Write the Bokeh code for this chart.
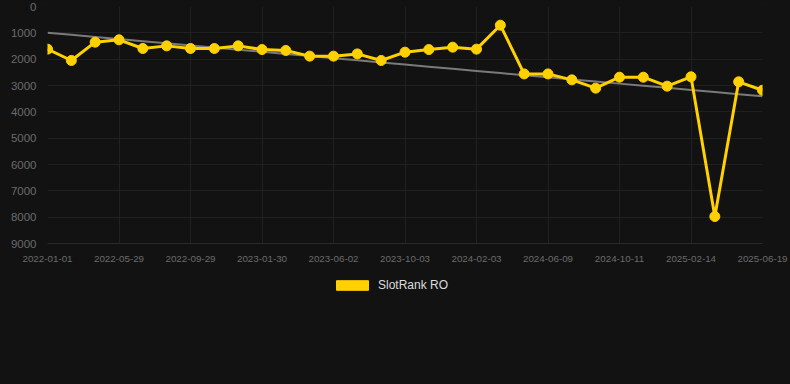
import numpy as np
from bokeh.plotting import figure
from bokeh.layouts import column
from bokeh.models import (Range1d, FixedTicker, Legend, LegendItem)
from bokeh.embed import file_html
from bokeh.resources import INLINE

# ---- data ----
tick_labels = ["2022-01-01", "2022-05-29", "2022-09-29", "2023-01-30", "2023-06-02",
               "2023-10-03", "2024-02-03", "2024-06-09", "2024-10-11", "2025-02-14",
               "2025-06-19"]
ranks = [1620, 2050, 1355, 1265, 1595, 1495, 1595, 1595, 1495, 1635,
         1670, 1885, 1885, 1800, 2050, 1735, 1635, 1545, 1620, 710,
         2560, 2560, 2785, 3100, 2685, 2685, 3025, 2670, 7975, 2860, 3180]
series_name = "SlotRank RO"
label_step = 3

idx = list(range(len(ranks)))
coef = np.polyfit(idx, ranks, 1)
trend = list(np.polyval(coef, idx))

BG = "#121212"
YELLOW = "#FFD100"
GRID = "#202020"
TXT = "#6b6b6b"

p = figure(frame_width=715, frame_height=237, output_backend="svg", toolbar_location=None,
           x_range=Range1d(0, len(ranks) - 1), y_range=Range1d(9000, 0),
           min_border_left=47, min_border_right=28, min_border_top=6,
           min_border_bottom=30)
p.background_fill_color = BG
p.border_fill_color = BG
p.outline_line_color = None

p.line(idx, trend, line_color="#7a7a7a", line_width=2)
p.line(idx, ranks, line_color=YELLOW, line_width=3)
p.scatter(idx, ranks, size=10, fill_color=YELLOW, line_color=YELLOW)

ticks = list(range(0, len(ranks), label_step))
p.xaxis.ticker = FixedTicker(ticks=ticks)
p.xaxis.major_label_overrides = {t: lab for t, lab in zip(ticks, tick_labels)}
p.yaxis.ticker = FixedTicker(ticks=list(range(0, 9001, 1000)))

for ax in (p.xaxis, p.yaxis):
    ax.major_label_text_color = TXT
    ax.major_label_text_font = "Liberation Sans"
    ax.minor_tick_line_color = None
    ax.major_tick_line_color = None
p.xaxis.major_label_text_font_size = "9.8px"
p.yaxis.major_label_text_font_size = "11.5px"
p.xaxis.axis_line_color = "#2a2a2a"
p.yaxis.axis_line_color = None
p.xaxis.major_label_standoff = 6
p.yaxis.major_label_standoff = 5

p.xgrid.grid_line_color = GRID
p.ygrid.grid_line_color = GRID

# legend strip below the chart
p2 = figure(width=790, height=111, output_backend="svg", toolbar_location=None,
            x_range=Range1d(0, 1), y_range=Range1d(0, 1),
            min_border=0, x_axis_type=None, y_axis_type=None)
p2.background_fill_color = BG
p2.border_fill_color = BG
p2.outline_line_color = None
p2.grid.visible = False
# swatch renderer kept outside the visible range; only its legend icon shows
swatch = p2.rect(x=[5], y=[5], width=1, height=1, fill_color=YELLOW, line_color=YELLOW)

legend = Legend(items=[LegendItem(label=series_name, renderers=[swatch])],
                location=(285, 92), orientation="horizontal",
                glyph_width=40, glyph_height=12, label_height=12, label_standoff=6,
                label_text_color="#dddddd", label_text_font="Liberation Sans",
                label_text_font_size="12px", background_fill_alpha=0,
                border_line_alpha=0, margin=0, padding=0)
p2.add_layout(legend, "center")

layout = column(p, p2, spacing=0)

html = file_html(layout, INLINE)
html = html.replace("</head>",
                    "<style>html, body { margin: 0 !important; padding: 0; background: #121212; }</style></head>", 1)
open("out.html", "w").write(html)
